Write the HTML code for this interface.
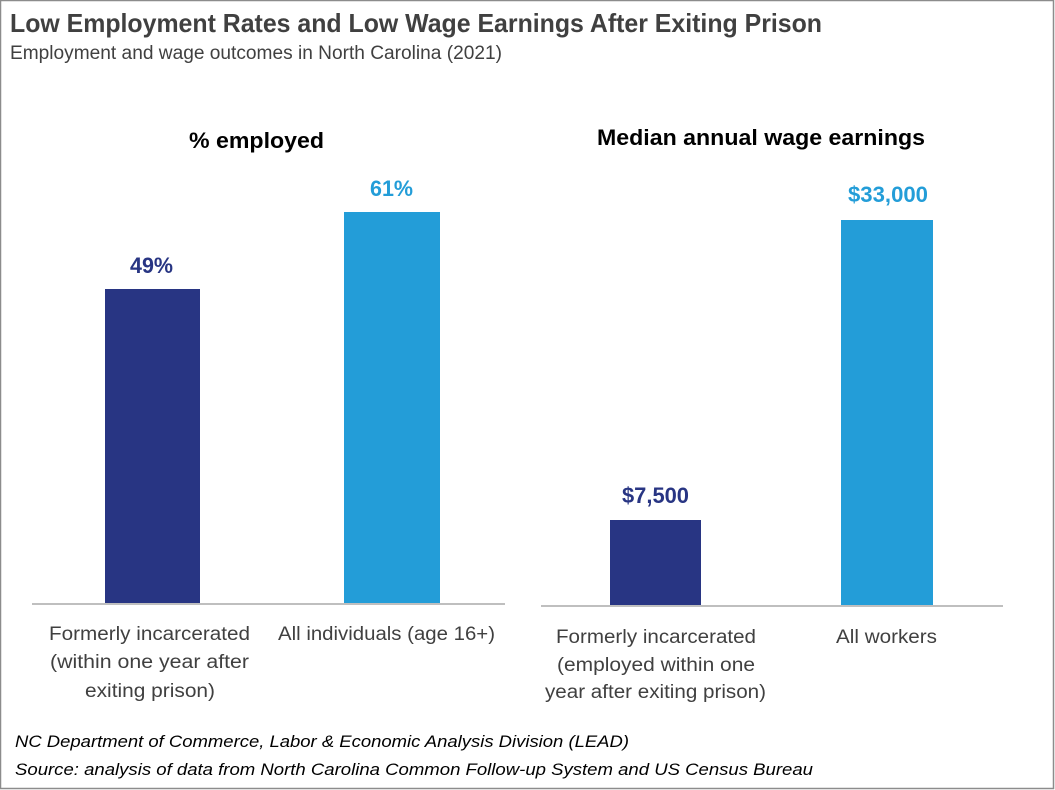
<!DOCTYPE html>
<html><head><meta charset="utf-8"><style>
html,body{margin:0;padding:0;background:#fff;}
svg{display:block;}
text{font-family:"Liberation Sans",sans-serif;}
</style></head><body>
<svg width="1055" height="790" viewBox="0 0 1055 790" xmlns="http://www.w3.org/2000/svg">
<rect x="0" y="0" width="1055" height="790" fill="#fff"/>
<rect x="0.5" y="0.5" width="1053" height="788" fill="none" stroke="#8c8c8c" stroke-width="1.5"/>
<text x="10" y="32" font-size="26" font-weight="bold" fill="#404040" textLength="812" lengthAdjust="spacingAndGlyphs">Low Employment Rates and Low Wage Earnings After Exiting Prison</text>
<text x="10" y="59" font-size="19" fill="#404040" textLength="492" lengthAdjust="spacingAndGlyphs">Employment and wage outcomes in North Carolina (2021)</text>

<text x="189" y="148" font-size="22" font-weight="bold" fill="#000" textLength="135" lengthAdjust="spacingAndGlyphs">% employed</text>
<text x="597" y="145" font-size="22" font-weight="bold" fill="#000" textLength="328" lengthAdjust="spacingAndGlyphs">Median annual wage earnings</text>

<!-- left chart -->
<rect x="105" y="289" width="95" height="315" fill="#283583"/>
<rect x="344" y="212" width="96" height="392" fill="#239dd8"/>
<line x1="32" y1="604" x2="505" y2="604" stroke="#bfbfbf" stroke-width="2"/>
<text x="130" y="273" font-size="22" font-weight="bold" fill="#283583" textLength="43" lengthAdjust="spacingAndGlyphs">49%</text>
<text x="370" y="196" font-size="22" font-weight="bold" fill="#239dd8" textLength="43" lengthAdjust="spacingAndGlyphs">61%</text>

<g font-size="19" fill="#404040">
<text x="49" y="640" textLength="201" lengthAdjust="spacingAndGlyphs">Formerly incarcerated</text>
<text x="50" y="668" textLength="199" lengthAdjust="spacingAndGlyphs">(within one year after</text>
<text x="85" y="697" textLength="130" lengthAdjust="spacingAndGlyphs">exiting prison)</text>
<text x="278" y="640" textLength="217" lengthAdjust="spacingAndGlyphs">All individuals (age 16+)</text>
</g>

<!-- right chart -->
<rect x="610" y="520" width="91" height="86" fill="#283583"/>
<rect x="841" y="220" width="92" height="386" fill="#239dd8"/>
<line x1="541" y1="606" x2="1003" y2="606" stroke="#bfbfbf" stroke-width="2"/>
<text x="622" y="503" font-size="22" font-weight="bold" fill="#283583" textLength="67" lengthAdjust="spacingAndGlyphs">$7,500</text>
<text x="848" y="202" font-size="22" font-weight="bold" fill="#239dd8" textLength="80" lengthAdjust="spacingAndGlyphs">$33,000</text>

<g font-size="19" fill="#404040">
<text x="556" y="643" textLength="200" lengthAdjust="spacingAndGlyphs">Formerly incarcerated</text>
<text x="557" y="671" textLength="198" lengthAdjust="spacingAndGlyphs">(employed within one</text>
<text x="545" y="698" textLength="221" lengthAdjust="spacingAndGlyphs">year after exiting prison)</text>
<text x="836" y="643" textLength="101" lengthAdjust="spacingAndGlyphs">All workers</text>
</g>

<g font-size="17" font-style="italic" fill="#000">
<text x="15" y="747" textLength="614" lengthAdjust="spacingAndGlyphs">NC Department of Commerce, Labor &amp; Economic Analysis Division (LEAD)</text>
<text x="15" y="775" textLength="798" lengthAdjust="spacingAndGlyphs">Source: analysis of data from  North Carolina Common Follow-up System and US Census Bureau</text>
</g>
</svg>
</body></html>
